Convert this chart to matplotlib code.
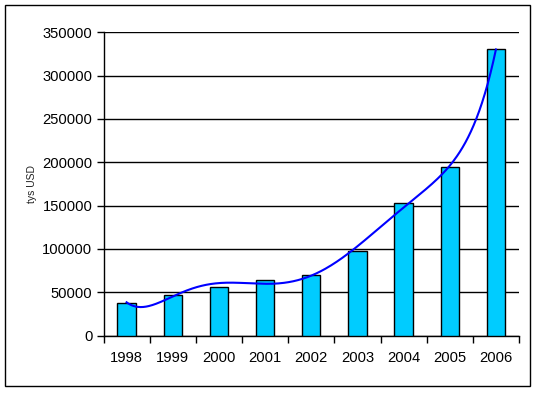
import numpy as np
import matplotlib
matplotlib.use("Agg")
import matplotlib.pyplot as plt
from matplotlib.patches import Rectangle

years = ["1998", "1999", "2000", "2001", "2002", "2003", "2004", "2005", "2006"]
values = [38000, 47000, 56000, 64000, 69500, 98000, 152500, 194000, 330500]
yticks = [0, 50000, 100000, 150000, 200000, 250000, 300000, 350000]

plt.rcParams['font.family'] = ['Liberation Sans', 'DejaVu Sans']

W, H = 537, 393
fig = plt.figure(figsize=(W / 100, H / 100), dpi=100)
fig.patch.set_facecolor('white')
fig.patches.append(Rectangle((5 / W, 1 - 386 / H), 525 / W, 381 / H,
                             transform=fig.transFigure, fill=False,
                             edgecolor='black', linewidth=1.0))

left, right, top, bottom = 103.5, 519, 32.3, 335.5
ax = fig.add_axes([left / W, 1 - bottom / H, (right - left) / W, (bottom - top) / H])

x = np.arange(len(years))
ax.bar(x, values, width=0.4, color='#00CCFF', edgecolor='black', linewidth=1.0, zorder=3)

# polynomial trend line (Excel-style, order 6)
coef = np.polyfit(x, values, 6)
xs = np.linspace(0, len(years) - 1, 400)
ax.plot(xs, np.polyval(coef, xs), color='#0000FF', linewidth=1.5, zorder=4)

ax.set_xlim(-0.5, len(years) - 0.5)
ax.set_ylim(0, 350000)
ax.set_yticks(yticks)
ax.set_yticklabels([str(v) for v in yticks], fontsize=10.6)
ax.yaxis.grid(True, color='black', linewidth=1.0, zorder=0)
ax.set_axisbelow(True)

ax.set_xticks(x)
ax.set_xticklabels(years, fontsize=10.6)
ax.set_xticks(np.arange(len(years) + 1) - 0.5, minor=True)
ax.tick_params(axis='x', which='major', length=0, pad=11.5)
ax.tick_params(axis='x', which='minor', length=5, width=1.0, direction='out')
ax.tick_params(axis='y', length=5, width=1.0, direction='out', pad=3)

for s in ['top', 'right']:
    ax.spines[s].set_visible(False)
for s in ['left', 'bottom']:
    ax.spines[s].set_linewidth(1.0)

ax.set_ylabel('tys USD', fontsize=7.5, labelpad=4, color='#222222')

fig.savefig('out.png', dpi=100, facecolor='white')
